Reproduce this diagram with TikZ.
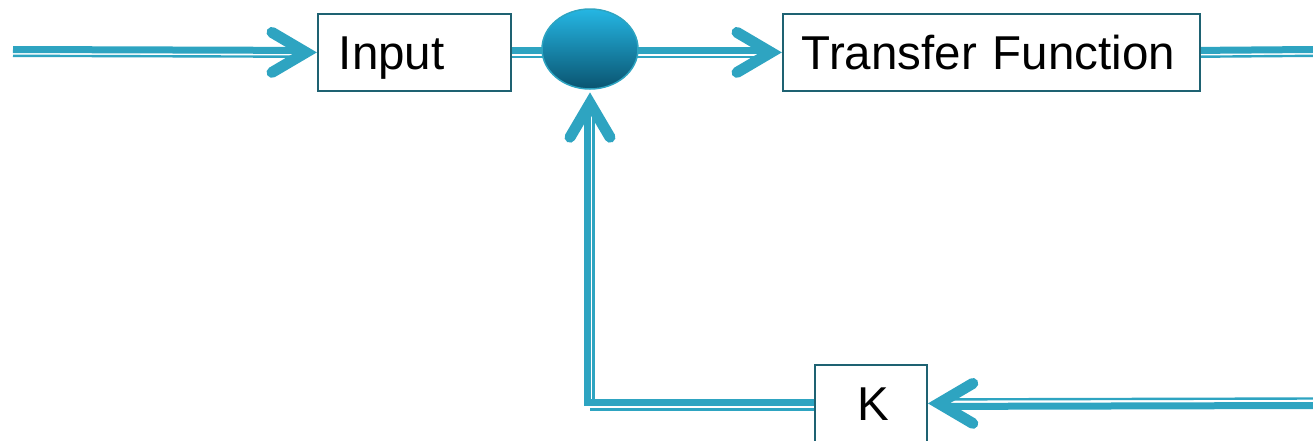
\documentclass[tikz,border=0pt]{standalone}
\usepackage{fontspec}
\setmainfont{Liberation Sans}
\usetikzlibrary{arrows.meta,positioning,calc,backgrounds,shapes.geometric}
\definecolor{cFlow}{HTML}{2EA4C1}
\definecolor{cEdge}{HTML}{1E6272}
\definecolor{cSumHi}{HTML}{25B6E3}
\definecolor{cSumLo}{HTML}{0A5470}
\tikzset{
  blk/.style  ={draw=cEdge,line width=1.8pt,fill=white,align=left,anchor=north west,
                minimum height=77pt,inner ysep=0pt,text height=34pt,text depth=0pt,
                font=\fontsize{47.5}{56}\selectfont},
  sumnd/.style={ellipse,draw=cFlow,line width=1.5pt,top color=cSumHi,bottom color=cSumLo,
                minimum width=96pt,minimum height=80pt,inner sep=0pt},
  thk/.style  ={draw=cFlow,line width=7pt},
  thn/.style  ={draw=cFlow,line width=2.4pt},
  chev/.pic   ={\draw[draw=cFlow,line width=11pt,line cap=round,line join=miter]
                 (-45,-20) -- (-11,0) -- (-45,20);},
}

\begin{document}
\begin{tikzpicture}[x=1pt, y=-1pt]
\useasboundingbox (0,0) rectangle (1313,440);

% ===== blocks ==============================================================
\node[blk,text width=151pt,inner xsep=21pt]  (inp)  at (317,13)  {Input};
\node[sumnd]                                 (sum)  at (590,49)  {};
\node[blk,text width=379pt,inner xsep=19pt]  (tf)   at (782,13)  {Transfer Function};
\node[blk,text width=32pt,inner xsep=40pt]   (kbox) at (814,364) {\hspace*{3pt}K};

\coordinate (src)  at (13,51.5);
\coordinate (snk)  at (1313,51.5);
\coordinate (fbin) at (1313,402.5);
\coordinate (bend) at (sum.south |- kbox.west);
\coordinate (fbtip) at ($(sum.south)+(0,2.5)$);

% ===== thick-thin lines, kept under the blocks =============================
\begin{scope}[on background layer]
\foreach \off/\sty in {-2/thk, 4.3/thn}{%
  \draw[\sty] ($(src)+(0,\off)$) -- ($(inp.west)+(-14,\off)$);
  \draw[\sty] ($(inp.east)+(0,\off)$) -- ($(inp.east -| sum.center)+(0,\off)$);
  \draw[\sty] ($(inp.east -| sum.center)+(0,\off)$) -- ($(tf.west)+(-14,\off)$);
  \draw[\sty] ($(tf.east)+(0,\off)$) -- ($(snk)+(0,\off)$);
}
\foreach \off/\sty in {-4/thn, 3/thk}{%
  \draw[\sty] ($(fbin)+(0,\off)$) -- ($(kbox.east)+(14,\off)$);
}
% feedback: K -> summing point
\draw[thk] ($(kbox.west)+(0,-1)$) -- ($(bend)+(-2.5,-1)$) -- ($(fbtip)+(-2.5,14)$);
\draw[thn] ($(kbox.west)+(0,6)$) -- ($(bend)+(0,6)$);
\draw[thn] ($(bend)+(3.5,2.5)$) -- ($(fbtip)+(3.5,14)$);
\end{scope}

% ===== arrow heads =========================================================
\pic at (inp.west) {chev};
\pic at (tf.west) {chev};
\pic[rotate=180] at (kbox.east) {chev};
\pic[rotate=90] at (fbtip) {chev};
\end{tikzpicture}
\end{document}
